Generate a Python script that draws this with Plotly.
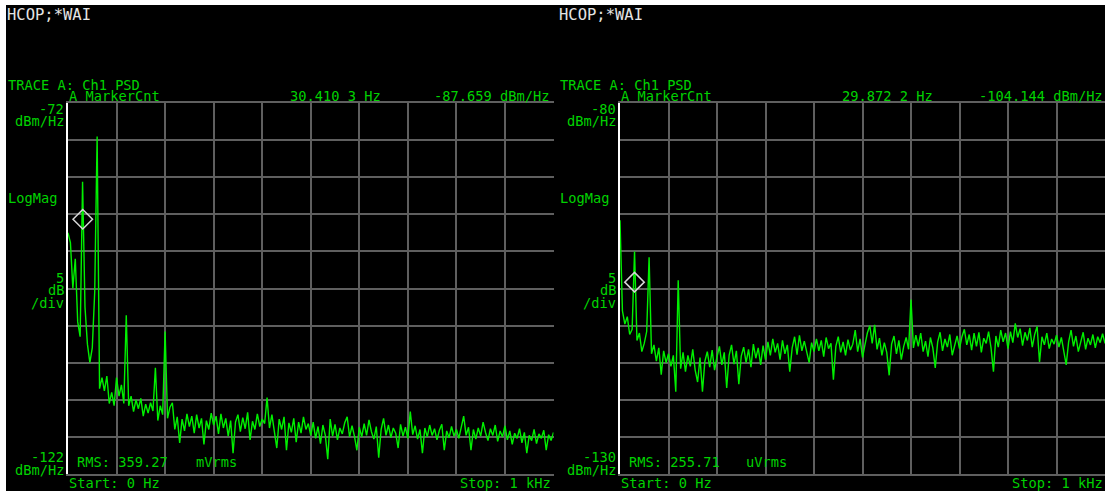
import plotly.graph_objects as go

# ---------------- data ----------------
FREQ_STEP_HZ = 5
FREQ_STOP_HZ = 1000
freqs = [i * FREQ_STEP_HZ for i in range(FREQ_STOP_HZ // FREQ_STEP_HZ + 1)]

# Left screen: Ch1 PSD, dBm/Hz (0 .. 1 kHz, 5 Hz steps)
psd_left = [
    -89.5, -90.8, -97.0, -93.0, -101.5, -103.5, -82.6, -99.5, -104.5, -107.0,
    -105.0, -97.5, -76.5, -110.5, -109.0, -110.8, -108.8, -112.5, -111.0, -112.8,
    -109.0, -111.5, -110.0, -112.5, -100.6, -112.8, -111.5, -113.6, -112.0, -113.2,
    -111.8, -114.2, -112.6, -113.8, -112.4, -113.5, -107.7, -114.8, -112.8, -114.0,
    -102.8, -114.5, -113.0, -112.4, -116.0, -114.3, -117.8, -114.6, -116.2, -113.9,
    -115.6, -114.2, -116.5, -114.0, -115.8, -114.5, -118.0, -114.8, -116.0, -113.8,
    -115.4, -114.2, -116.6, -113.9, -115.8, -114.5, -116.9, -114.8, -119.2, -115.0,
    -114.0, -116.3, -114.4, -115.9, -113.7, -117.4, -114.9, -116.0, -113.9, -115.6,
    -114.6, -115.2, -111.7, -115.8, -114.0, -116.2, -118.5, -114.6, -116.0, -114.3,
    -118.8, -115.1, -116.4, -114.5, -117.7, -115.0, -116.5, -114.3, -116.0, -115.2,
    -116.8, -115.0, -117.2, -115.6, -117.9, -115.4, -116.8, -120.0, -114.6, -116.9,
    -115.3, -117.4, -115.8, -116.6, -115.1, -114.3, -117.0, -115.5, -116.9, -118.8,
    -115.7, -117.0, -115.2, -116.8, -114.7, -116.3, -117.3, -115.6, -119.8, -116.0,
    -114.5, -116.8, -115.4, -117.1, -115.8, -116.5, -118.5, -115.3, -116.9, -115.7,
    -117.2, -113.6, -116.7, -115.5, -117.3, -116.0, -119.2, -115.8, -117.0, -115.4,
    -116.8, -115.9, -117.4, -116.1, -115.3, -118.8, -116.2, -117.1, -115.6, -116.9,
    -116.0, -117.2, -115.6, -114.2, -116.8, -115.7, -118.8, -116.0, -117.3, -115.8,
    -116.9, -115.0, -116.4, -117.5, -115.9, -116.8, -115.4, -117.6, -116.2, -117.0,
    -115.5, -117.4, -116.2, -118.0, -116.5, -117.2, -115.9, -117.8, -116.4, -119.2,
    -116.8, -117.5, -116.0, -117.9, -116.6, -117.2, -116.1, -118.8, -116.7, -117.5,
    -116.4,
]

# Right screen: Ch1 PSD, dBm/Hz (0 .. 1 kHz, 5 Hz steps)
psd_right = [
    -95.8, -108.0, -109.8, -108.8, -111.2, -110.5, -100.0, -112.0, -111.0, -113.5,
    -112.4, -110.8, -100.8, -113.8, -112.6, -114.8, -113.0, -116.6, -113.4, -115.0,
    -113.8, -115.5, -114.0, -118.9, -103.9, -115.8, -113.6, -116.2, -114.0, -115.5,
    -113.2, -116.0, -117.6, -114.3, -118.9, -114.8, -113.5, -115.6, -113.3, -116.0,
    -114.2, -112.8, -115.3, -113.6, -118.4, -114.0, -112.6, -115.2, -113.4, -117.9,
    -114.1, -112.9, -115.0, -113.2, -115.6, -112.5, -114.4, -113.0, -115.3, -112.7,
    -114.6, -112.2, -114.0, -111.8, -113.6, -112.4, -114.6, -112.0, -113.8, -112.6,
    -116.2, -113.0, -111.5, -113.9, -111.3, -113.4, -112.1, -113.7, -115.0, -112.3,
    -113.5, -111.8, -113.4, -112.0, -114.2, -111.6, -113.1, -112.4, -117.3, -112.8,
    -111.5, -113.6, -112.2, -114.0, -111.9, -113.3, -112.5, -110.6, -113.5, -111.8,
    -114.3, -112.6, -111.0, -110.0, -112.4, -109.9, -113.2, -111.7, -114.0, -112.3,
    -113.6, -116.7, -112.5, -111.4, -113.8, -112.0, -114.6, -112.8, -111.6, -113.2,
    -106.5, -113.0, -111.3, -112.8, -111.0, -113.5, -112.1, -114.2, -111.6, -113.0,
    -115.7, -112.2, -110.9, -113.4, -111.8, -112.9, -111.2, -114.0, -112.5, -111.4,
    -113.1, -111.5, -110.5, -112.6, -111.2, -113.3, -111.0, -112.8, -110.9, -113.6,
    -111.7, -112.4, -110.8, -113.0, -116.2, -111.4, -112.9, -110.6, -112.2, -111.0,
    -113.1, -110.8, -112.3, -109.7, -111.6, -110.4, -112.7, -110.9, -112.0, -110.3,
    -112.9, -111.2, -110.1, -114.9, -111.5, -112.6, -111.0, -113.1, -111.8, -112.5,
    -111.3, -112.9, -111.6, -113.4, -115.3, -112.2, -110.6, -112.8, -111.4, -113.5,
    -112.0, -110.9, -113.2, -111.7, -112.6, -111.2, -113.0, -111.5, -112.3, -111.1,
    -112.4,
]

marker_left_hz, marker_left_db = 30.4103, -87.659
marker_right_hz, marker_right_db = 29.8722, -104.144

ref_left, bottom_left = -72, -122
ref_right, bottom_right = -80, -130
rms_left, rms_left_unit = "359.27", "mVrms"
rms_right, rms_right_unit = "255.71", "uVrms"

# ---------------- styling ----------------
W, H = 1105, 491
BLACK = "#000000"
GRID = "#5f5f5f"
TRACE_GREEN = "#00f000"
TEXT_GREEN = "#00d200"
HCOP_GRAY = "#e4e4e4"
MONO = "DejaVu Sans Mono"
FS = 13.7


def px(x):
    return x / W


def py(y):
    return 1 - y / H


PLOT_TOP, PLOT_BOTTOM = 103, 474
panels = [
    dict(x0=68, x1=553.5, psd=psd_left, ref=ref_left, bot=bottom_left,
         mk=(marker_left_hz, marker_left_db), rms=rms_left, unit=rms_left_unit,
         text_x=7, mkr_freq_x=289, mkr_val_right=550, stop_right=552,
         rms_x=76, unit_x=195),
    dict(x0=620, x1=1105, psd=psd_right, ref=ref_right, bot=bottom_right,
         mk=(marker_right_hz, marker_right_db), rms=rms_right, unit=rms_right_unit,
         text_x=559, mkr_freq_x=841, mkr_val_right=1104, stop_right=1104,
         rms_x=628, unit_x=745),
]

fig = go.Figure()
annotations = []
layout_axes = {}

for k, p in enumerate(panels, start=1):
    xa = "x" if k == 1 else f"x{k}"
    ya = "y" if k == 1 else f"y{k}"
    xname = "xaxis" if k == 1 else f"xaxis{k}"
    yname = "yaxis" if k == 1 else f"yaxis{k}"

    fig.add_trace(go.Scatter(
        x=freqs, y=p["psd"], mode="lines", xaxis=xa, yaxis=ya,
        line=dict(color=TRACE_GREEN, width=1.4), hoverinfo="skip",
        showlegend=False, cliponaxis=True,
    ))
    fig.add_trace(go.Scatter(
        x=[p["mk"][0]], y=[p["mk"][1]], mode="markers", xaxis=xa, yaxis=ya,
        marker=dict(symbol="diamond-open", size=15, color="#d6d6d6",
                    line=dict(width=1.5, color="#d6d6d6")),
        hoverinfo="skip", showlegend=False, cliponaxis=False,
    ))

    layout_axes[xname] = dict(
        domain=[px(p["x0"]), px(p["x1"])], range=[0, FREQ_STOP_HZ],
        anchor=ya, showgrid=True, gridcolor=GRID, gridwidth=2,
        tick0=0, dtick=100, showticklabels=False, ticks="", zeroline=False,
        showline=True, linecolor=GRID, linewidth=2, mirror=True, fixedrange=True,
    )
    layout_axes[yname] = dict(
        domain=[py(PLOT_BOTTOM), py(PLOT_TOP)], range=[p["bot"], p["ref"]],
        anchor=xa, showgrid=True, gridcolor=GRID, gridwidth=2,
        tick0=p["ref"], dtick=5, showticklabels=False, ticks="", zeroline=False,
        showline=True, linecolor="#ffffff", linewidth=2, mirror=False, fixedrange=True,
    )

    def ann(text, x, y, anchor="left", color=TEXT_GREEN, size=FS):
        annotations.append(dict(
            text=text, x=px(x), y=py(y), xref="paper", yref="paper",
            xanchor=anchor, yanchor="middle", showarrow=False,
            font=dict(family=MONO, size=size, color=color), borderpad=0,
        ))

    tx = p["text_x"]
    lx = p["x0"] - 3
    ann("HCOP;*WAI", tx - 1, 15, color=HCOP_GRAY, size=15.5)
    ann("TRACE A: Ch1 PSD", tx, 84.5)
    ann("A MarkerCnt", p["x0"], 96.3)
    freq_txt = f"{p['mk'][0]:.4f}"
    freq_txt = freq_txt[:-1] + " " + freq_txt[-1] + " Hz"
    ann(freq_txt, p["mkr_freq_x"], 96.3)
    ann(f"{p['mk'][1]:.3f} dBm/Hz", p["mkr_val_right"], 96.3, anchor="right")
    ann(f"{p['ref']}", lx, 108.5, anchor="right")
    ann("dBm/Hz", lx, 120.5, anchor="right")
    ann("LogMag", tx, 197.5)
    ann("5", lx, 277.5, anchor="right")
    ann("dB", lx, 290, anchor="right")
    ann("/div", lx, 302.5, anchor="right")
    ann(f"{p['bot']}", lx, 457, anchor="right")
    ann("dBm/Hz", lx, 469.5, anchor="right")
    ann(f"RMS: {p['rms']}", p["rms_x"], 462)
    ann(p["unit"], p["unit_x"], 462)
    ann("Start: 0 Hz", p["x0"], 482.5)
    ann("Stop: 1 kHz", p["stop_right"], 482.5, anchor="right")

fig.update_layout(
    width=W, height=H, margin=dict(l=0, r=0, t=0, b=0),
    paper_bgcolor="#ffffff", plot_bgcolor=BLACK,
    annotations=annotations,
    shapes=[dict(type="rect", xref="paper", yref="paper",
                 x0=px(6), x1=1, y0=0, y1=py(5),
                 fillcolor=BLACK, line=dict(width=0), layer="below")],
    **layout_axes,
)

# the page body has a default 8px margin; remove it so the figure fills the window
fig.write_html(
    "out.html",
    config={"displayModeBar": False, "staticPlot": True},
    post_script="document.body.style.margin='0';document.body.style.overflow='hidden';",
)
